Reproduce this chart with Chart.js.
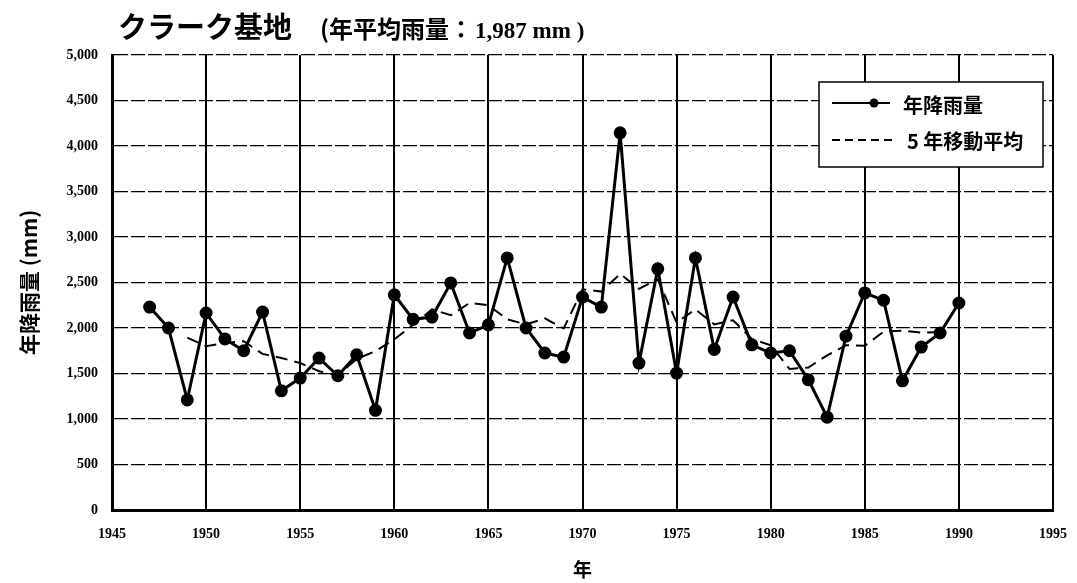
<!DOCTYPE html>
<html>
<head>
<meta charset="utf-8">
<script src="https://cdn.jsdelivr.net/npm/chart.js@4.4.1/dist/chart.umd.min.js"></script>
<style>
  html, body { margin: 0; padding: 0; background: #fff; }
  #wrap { width: 1077px; height: 583px; }
</style>
</head>
<body>
<div id="wrap"><canvas id="chart" width="1077" height="583"></canvas></div>
<script>
// annual rainfall
const years = [1947, 1948, 1949, 1950, 1951, 1952, 1953, 1954, 1955, 1956, 1957,
  1958, 1959, 1960, 1961, 1962, 1963, 1964, 1965, 1966, 1967, 1968, 1969, 1970,
  1971, 1972, 1973, 1974, 1975, 1976, 1977, 1978, 1979, 1980, 1981, 1982, 1983,
  1984, 1985, 1986, 1987, 1988, 1989, 1990];
const rainfall = [2230, 2000, 1210, 2165, 1880, 1750, 2175, 1310, 1450, 1670, 1475,
  1705, 1095, 2365, 2095, 2120, 2495, 1945, 2035, 2770, 2000, 1725, 1680, 2340,
  2230, 4145, 1615, 2650, 1505, 2770, 1765, 2340, 1815, 1725, 1750, 1430, 1020,
  1910, 2385, 2305, 1420, 1790, 1945, 2275];

// 5-year moving average (dashed line)
const maYears = [1949, 1950, 1951, 1952, 1953, 1954, 1955, 1956, 1957, 1958, 1959,
  1960, 1961, 1962, 1963, 1964, 1965, 1966, 1967, 1968, 1969, 1970, 1971, 1972,
  1973, 1974, 1975, 1976, 1977, 1978, 1979, 1980, 1981, 1982, 1983, 1984, 1985,
  1986, 1987, 1988, 1989];
const movingAvg = [1895, 1800, 1835, 1855, 1715, 1670, 1615, 1525, 1480, 1660, 1745,
  1875, 2035, 2205, 2140, 2275, 2250, 2095, 2040, 2105, 1995, 2425, 2400, 2595,
  2430, 2535, 2060, 2205, 2040, 2085, 1880, 1810, 1550, 1565, 1700, 1810, 1805,
  1960, 1970, 1950, 1955];

const yTicks = [0, 500, 1000, 1500, 2000, 2500, 3000, 3500, 4000, 4500, 5000];

const titleMain = "クラーク基地";
const titleSub = "(年平均雨量：";
const titleValue = "1,987 mm )";
const legendLabels = ["年降雨量", "5 年移動平均"];

const cjk = '"Noto Sans CJK JP", "Noto Sans", sans-serif';
const serif = '"Liberation Serif", "DejaVu Serif", serif';

const toPoints = (xs, ys) => xs.map((x, i) => ({ x: x, y: ys[i] }));

// title and legend box drawn by hand
const decorations = {
  id: "decorations",
  afterDraw(chart) {
    const ctx = chart.ctx;
    ctx.save();
    ctx.fillStyle = "#000";
    ctx.textBaseline = "middle";
    ctx.textAlign = "left";
    ctx.font = "bold 29px " + cjk;
    ctx.fillText(titleMain, 118, 27);
    ctx.font = "bold 24px " + cjk;
    ctx.fillText(titleSub, 320, 29);
    const w = ctx.measureText(titleSub).width;
    ctx.font = "bold 23px " + serif;
    ctx.fillText(titleValue, 320 + w + 2, 32);

    // legend
    const bx = 819, by = 82, bw = 224, bh = 85;
    ctx.fillStyle = "#fff";
    ctx.fillRect(bx, by, bw, bh);
    ctx.strokeStyle = "#000";
    ctx.lineWidth = 1.5;
    ctx.strokeRect(bx, by, bw, bh);

    ctx.lineWidth = 2;
    ctx.beginPath();
    ctx.moveTo(832, 103);
    ctx.lineTo(890, 103);
    ctx.stroke();
    ctx.fillStyle = "#000";
    ctx.beginPath();
    ctx.arc(874, 103, 4.5, 0, Math.PI * 2);
    ctx.fill();

    ctx.setLineDash([8, 5]);
    ctx.beginPath();
    ctx.moveTo(832, 140);
    ctx.lineTo(892, 140);
    ctx.stroke();
    ctx.setLineDash([]);

    ctx.font = "bold 20px " + cjk;
    ctx.fillText(legendLabels[0], 903, 105);
    ctx.fillText(legendLabels[1], 907, 141);
    ctx.restore();
  }
};

new Chart(document.getElementById("chart"), {
  type: "line",
  data: {
    datasets: [
      {
        label: legendLabels[0],
        data: toPoints(years, rainfall),
        borderColor: "#000",
        backgroundColor: "#000",
        borderWidth: 3,
        pointRadius: 5,
        pointBackgroundColor: "#000",
        tension: 0
      },
      {
        label: legendLabels[1],
        data: toPoints(maYears, movingAvg),
        borderColor: "#000",
        borderWidth: 2,
        borderDash: [12, 7],
        pointRadius: 0,
        tension: 0
      }
    ]
  },
  options: {
    responsive: false,
    animation: false,
    layout: { padding: { top: 55, right: 24, left: 0, bottom: 0 } },
    plugins: {
      legend: { display: false },
      title: { display: false },
      tooltip: { enabled: false }
    },
    scales: {
      x: {
        type: "linear",
        min: 1945,
        max: 1995,
        afterFit: (scale) => {
          scale.height = 73;
          scale.paddingRight = 0;
          scale.paddingLeft = 0;
        },
        ticks: {
          stepSize: 5,
          padding: 16,
          color: "#000",
          font: { family: serif, size: 14, weight: "bold" },
          callback: (v) => String(v)
        },
        grid: { color: "#000", lineWidth: 2, drawTicks: false },
        border: { color: "#000", width: 3 },
        title: {
          display: true,
          text: "年",
          color: "#000",
          font: { family: cjk, size: 19, weight: "bold" },
          padding: { top: 0, bottom: 2 }
        }
      },
      y: {
        min: 0,
        max: 5000,
        afterFit: (scale) => { scale.width = 112; },
        afterBuildTicks: (scale) => { scale.ticks = yTicks.map((v) => ({ value: v })); },
        ticks: {
          padding: 14,
          color: "#000",
          font: { family: serif, size: 14, weight: "bold" },
          callback: (v) => v.toLocaleString("en-US")
        },
        grid: { color: "#000", lineWidth: 1.2, drawTicks: false },
        border: { color: "#000", width: 3, dash: [14, 3] },
        title: {
          display: true,
          text: "年降雨量 (mm)",
          color: "#000",
          font: { family: cjk, size: 21, weight: "bold" },
          padding: { top: 16, bottom: 10 }
        }
      }
    }
  },
  plugins: [decorations]
});
</script>
</body>
</html>
